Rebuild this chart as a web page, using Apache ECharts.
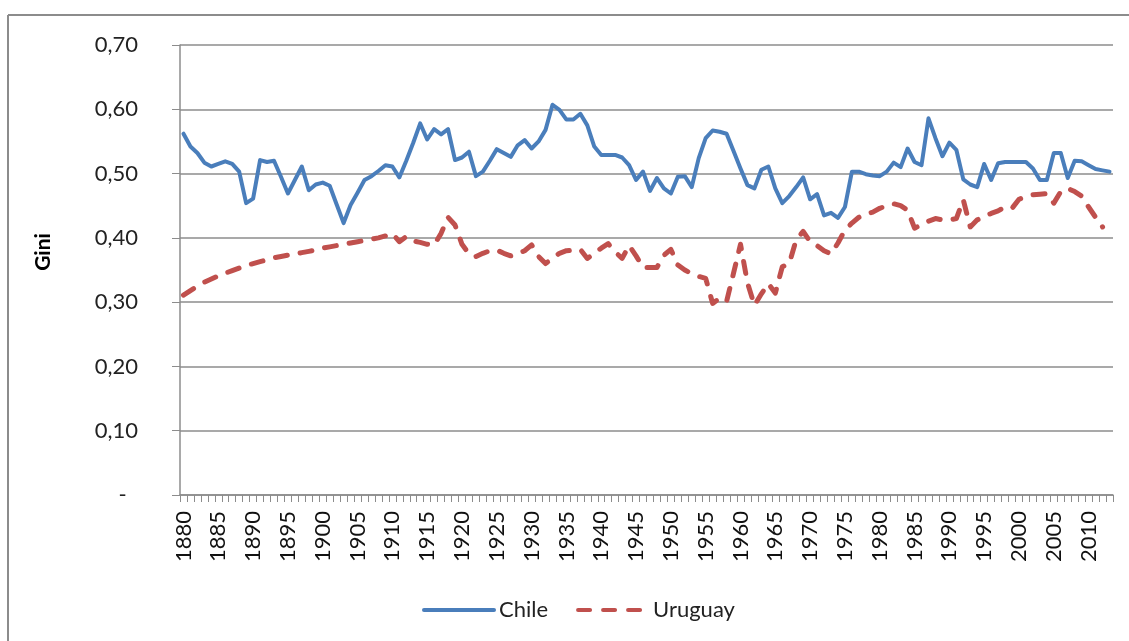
<!DOCTYPE html>
<html>
<head>
<meta charset="utf-8">
<script src="https://cdn.jsdelivr.net/npm/echarts@6/dist/echarts.min.js"></script>
<style>
html,body{margin:0;padding:0;background:#fff;}
#chart{width:1129px;height:641px;}
</style>
</head>
<body>
<div id="chart"></div>
<script>
var years = [];
for (var y = 1880; y <= 2013; y++) years.push(String(y));

var chile = [
 0.562,0.542,0.532,0.517,0.511,0.515,0.519,0.515,0.503,0.454,
 0.461,0.521,0.518,0.520,0.495,0.469,0.490,0.511,0.474,0.483,
 0.486,0.481,0.452,0.423,0.451,0.470,0.490,0.496,0.504,0.513,
 0.511,0.494,0.520,0.548,0.578,0.553,0.569,0.561,0.569,0.521,
 0.525,0.534,0.496,0.503,0.520,0.538,0.532,0.526,0.544,0.552,
 0.539,0.550,0.568,0.607,0.599,0.584,0.584,0.593,0.575,0.542,
 0.529,0.529,0.529,0.525,0.513,0.490,0.503,0.473,0.493,0.477,
 0.469,0.495,0.496,0.479,0.524,0.555,0.567,0.565,0.562,0.535,
 0.508,0.482,0.477,0.506,0.511,0.477,0.454,0.465,0.479,0.494,
 0.460,0.468,0.435,0.439,0.431,0.448,0.503,0.503,0.499,0.497,
 0.496,0.503,0.517,0.510,0.539,0.518,0.513,0.586,0.555,0.527,
 0.548,0.537,0.491,0.483,0.479,0.515,0.490,0.516,0.518,0.518,
 0.518,0.518,0.508,0.490,0.490,0.532,0.532,0.493,0.520,0.519,
 0.513,0.507,0.505,0.503
];

var uruguay = [
 0.311,0.318,0.325,0.331,0.336,0.341,0.345,0.349,0.353,0.357,
 0.360,0.363,0.366,0.369,0.371,0.373,0.375,0.377,0.379,0.381,
 0.384,0.386,0.388,0.390,0.392,0.394,0.396,0.398,0.400,0.403,
 0.407,0.394,0.402,0.395,0.393,0.390,0.389,0.407,0.432,0.420,
 0.390,0.375,0.371,0.376,0.380,0.381,0.376,0.372,0.375,0.380,
 0.389,0.371,0.360,0.368,0.376,0.380,0.381,0.382,0.368,0.376,
 0.384,0.391,0.378,0.368,0.388,0.372,0.354,0.354,0.354,0.373,
 0.382,0.358,0.350,0.344,0.340,0.337,0.298,0.306,0.301,0.345,
 0.390,0.330,0.295,0.313,0.329,0.314,0.355,0.360,0.397,0.410,
 0.394,0.388,0.380,0.375,0.392,0.412,0.423,0.432,0.437,0.440,
 0.446,0.450,0.453,0.450,0.443,0.415,0.421,0.426,0.430,0.428,
 0.428,0.430,0.459,0.417,0.428,0.433,0.438,0.442,0.448,0.446,
 0.460,0.464,0.467,0.468,0.469,0.454,0.472,0.477,0.472,0.465,
 0.448,0.432,0.417,null
];

var yTicks = [0, 0.1, 0.2, 0.3, 0.4, 0.5, 0.6, 0.7];

var FONT = 'Lato, "Open Sans", sans-serif';
var chart = echarts.init(document.getElementById('chart'), null, {renderer: 'canvas'});
chart.setOption({
  animation: false,
  backgroundColor: '#ffffff',
  textStyle: {fontFamily: FONT},
  grid: {left: 180, right: 16, top: 45, bottom: 146, containLabel: false},
  legend: {
    left: 417, top: 594,
    itemWidth: 70, itemHeight: 16, itemGap: 28,
    itemStyle: {opacity: 0},
    lineStyle: {width: 4, cap: 'round'},
    textStyle: {fontFamily: FONT, fontSize: 22, color: '#222'},
    data: ['Chile', 'Uruguay']
  },
  graphic: [
    {type: 'line', shape: {x1: 8, y1: 15, x2: 1129, y2: 15}, style: {stroke: '#8c8c8c', lineWidth: 2}, silent: true},
    {type: 'line', shape: {x1: 8, y1: 15, x2: 8, y2: 641}, style: {stroke: '#8c8c8c', lineWidth: 2}, silent: true},
    {type: 'text', x: 43, y: 252, rotation: Math.PI / 2,
     style: {text: 'Gini', font: 'bold 21px ' + FONT, fill: '#000', align: 'center', verticalAlign: 'middle'}}
  ],
  xAxis: {
    type: 'category',
    data: years,
    boundaryGap: true,
    axisLine: {lineStyle: {color: '#8c8c8c', width: 1.5}},
    axisTick: {show: true, interval: 0, length: 7, lineStyle: {color: '#8c8c8c'}},
    axisLabel: {interval: 4, rotate: 90, margin: 16, fontSize: 22, color: '#111', fontFamily: FONT},
    splitLine: {show: false}
  },
  yAxis: {
    type: 'value',
    min: 0, max: 0.7, interval: 0.1,
    axisLine: {show: true, lineStyle: {color: '#8c8c8c', width: 1.5}},
    axisTick: {show: true, inside: false, length: 8, lineStyle: {color: '#8c8c8c'}},
    axisLabel: {
      margin: 42, fontSize: 22, color: '#222', fontFamily: FONT,
      formatter: function (v) {
        if (Math.abs(v) < 1e-9) return '-  ';
        return v.toFixed(2).replace('.', ',');
      }
    },
    splitLine: {show: true, lineStyle: {color: '#8c8c8c', width: 1.5}}
  },
  series: [
    {
      name: 'Chile', type: 'line', data: chile,
      symbol: 'none', smooth: false,
      lineStyle: {color: '#4a7ebb', width: 4, cap: 'round', join: 'round'},
      itemStyle: {color: '#4a7ebb'}
    },
    {
      name: 'Uruguay', type: 'line', data: uruguay,
      symbol: 'none', smooth: false, connectNulls: false,
      lineStyle: {color: '#c0504d', width: 5, type: [12, 13], cap: 'round', join: 'round'},
      itemStyle: {color: '#c0504d'}
    }
  ]
});
</script>
</body>
</html>
